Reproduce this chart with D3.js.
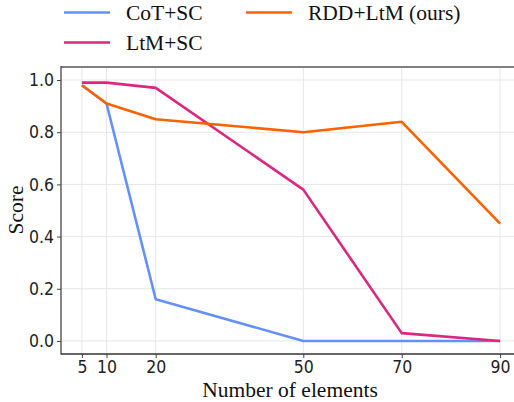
<!DOCTYPE html>
<html>
<head>
<meta charset="utf-8">
<script src="https://cdn.jsdelivr.net/npm/d3@7"></script>
<style>
  html, body { margin: 0; padding: 0; background: #fff; }
  svg { display: block; }
  .tick text { font-family: "DejaVu Sans Condensed", "DejaVu Sans", sans-serif; font-stretch: condensed; font-size: 17.5px; fill: #222; }
  .serif { font-family: "Liberation Serif", "Times New Roman", serif; fill: #111; }
</style>
</head>
<body>
<svg id="chart" width="514" height="402"></svg>
<script>
"use strict";

const elements = [5, 10, 20, 50, 70, 90];
const cotSC = [0.98, 0.91, 0.16, 0.0, 0.0, 0.0];
const ltmSC = [0.99, 0.99, 0.97, 0.58, 0.03, 0.0];
const rddLtm = [0.98, 0.91, 0.85, 0.80, 0.84, 0.45];
const yTicks = [0.0, 0.2, 0.4, 0.6, 0.8, 1.0];

const series = [
  { name: "CoT+SC", values: cotSC, color: "#648FFF" },
  { name: "LtM+SC", values: ltmSC, color: "#DC267F" },
  { name: "RDD+LtM (ours)", values: rddLtm, color: "#FE6100" },
];

const svg = d3.select("#chart");
const plotLeft = 61, plotTop = 67, plotBottom = 354;

const x = d3.scaleLinear([0.75, 94.25], [plotLeft, plotLeft + 93.5 * 4.92]);
const y = d3.scaleLinear([-0.05, 1.05], [plotBottom, plotTop]);

/* grid */
const grid = svg.append("g").attr("stroke", "#e6e6e6").attr("stroke-width", 1);
grid.selectAll("line.gx").data(elements).join("line")
  .attr("x1", (d) => x(d)).attr("x2", (d) => x(d))
  .attr("y1", plotTop).attr("y2", plotBottom);
grid.selectAll("line.gy").data(yTicks).join("line")
  .attr("x1", plotLeft).attr("x2", x.range()[1])
  .attr("y1", (d) => y(d)).attr("y2", (d) => y(d));

/* lines */
const line = d3.line().x((d, i) => x(elements[i])).y((d) => y(d));
svg.append("g").selectAll("path").data(series).join("path")
  .attr("fill", "none")
  .attr("stroke", (d) => d.color)
  .attr("stroke-width", 2.6)
  .attr("stroke-linejoin", "round")
  .attr("d", (d) => line(d.values));

/* axes */
const xAxis = svg.append("g")
  .attr("transform", `translate(0,${plotBottom})`)
  .call(d3.axisBottom(x).tickValues(elements).tickSize(4).tickPadding(3).tickFormat(d3.format("d")));
const yAxis = svg.append("g")
  .attr("transform", `translate(${plotLeft},0)`)
  .call(d3.axisLeft(y).tickValues(yTicks).tickSize(4).tickPadding(3).tickFormat(d3.format(".1f")));
for (const ax of [xAxis, yAxis]) {
  ax.select(".domain").remove();
  ax.selectAll(".tick line").attr("stroke", "#444").attr("stroke-width", 1);
}

/* spines */
svg.append("line").attr("x1", plotLeft).attr("x2", 514).attr("y1", plotTop).attr("y2", plotTop)
  .attr("stroke", "#808080").attr("stroke-width", 2);
svg.append("line").attr("x1", plotLeft).attr("x2", plotLeft).attr("y1", plotTop - 1).attr("y2", plotBottom + 0.5)
  .attr("stroke", "#444").attr("stroke-width", 1.3);
svg.append("line").attr("x1", plotLeft).attr("x2", 514).attr("y1", plotBottom).attr("y2", plotBottom)
  .attr("stroke", "#333").attr("stroke-width", 1.3);

/* axis labels */
svg.append("text").attr("class", "serif")
  .attr("x", 290).attr("y", 397).attr("text-anchor", "middle")
  .attr("font-size", 21.5).text("Number of elements");
svg.append("text").attr("class", "serif")
  .attr("transform", "translate(23,210) rotate(-90)").attr("text-anchor", "middle")
  .attr("font-size", 21.5).text("Score");

/* legend */
const legendPos = [[64, 12.5], [64, 42.5], [246, 12.5]];
const legend = svg.append("g").selectAll("g").data(series).join("g")
  .attr("transform", (d, i) => `translate(${legendPos[i][0]},${legendPos[i][1]})`);
legend.append("line").attr("x1", 0).attr("x2", 46)
  .attr("stroke", (d) => d.color).attr("stroke-width", 2.6);
legend.append("text").attr("class", "serif")
  .attr("x", 62).attr("y", 7.5).attr("font-size", 21.5)
  .text((d) => d.name);
</script>
</body>
</html>
